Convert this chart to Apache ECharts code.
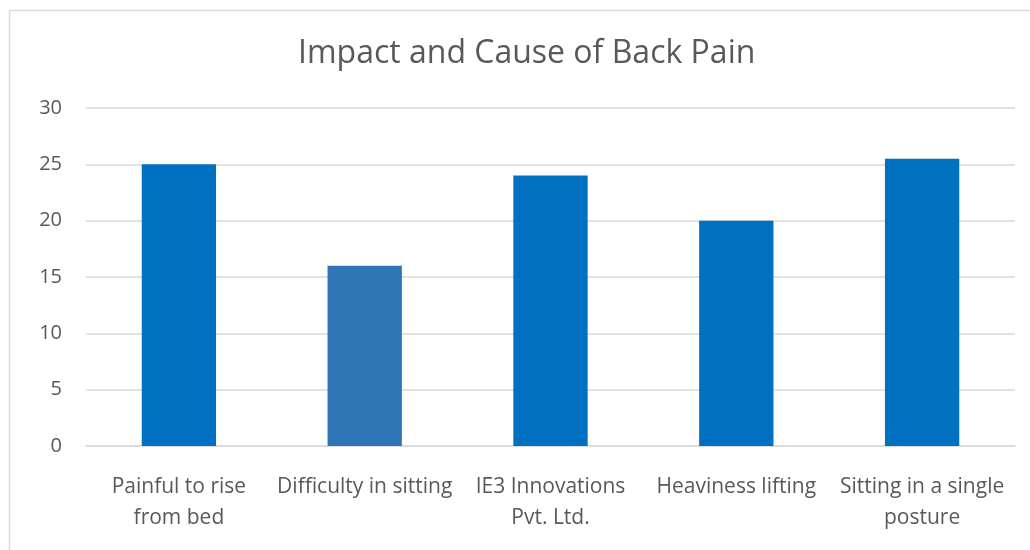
<!DOCTYPE html>
<html>
<head>
<meta charset="utf-8">
<script src="https://cdn.jsdelivr.net/npm/echarts@6/dist/echarts.min.js"></script>
<style>
html,body{margin:0;padding:0;background:#fff;}
#chart{width:1030px;height:550px;}
</style>
</head>
<body>
<div id="chart"></div>
<script>
var titleText = 'Impact and Cause of Back Pain';
var categories = ['Painful to rise\nfrom bed', 'Difficulty in sitting', 'IE3 Innovations\nPvt. Ltd.', 'Heaviness lifting', 'Sitting in a single\nposture'];
var values = [25, 16, 24, 20, 25.5];
var barColors = ['#0070C0', '#2E75B6', '#0070C0', '#0070C0', '#0070C0'];
var yTicks = [0, 5, 10, 15, 20, 25, 30];

var chart = echarts.init(document.getElementById('chart'), null, {renderer: 'canvas'});
var font = '"Open Sans", "Liberation Sans", sans-serif';
chart.setOption({
  animation: false,
  graphic: [{
    type: 'rect',
    shape: {x: 9.5, y: 10.5, width: 1100, height: 600},
    style: {fill: 'none', stroke: '#D9D9D9', lineWidth: 1.5},
    silent: true
  }],
  title: {
    text: titleText,
    left: 293,
    top: 33,
    textStyle: {fontFamily: font, fontSize: 32, fontWeight: 'normal', color: '#595959'}
  },
  grid: {left: 86, right: 15, top: 108, bottom: 104, containLabel: false},
  xAxis: {
    type: 'category',
    data: categories,
    axisLine: {show: true, lineStyle: {color: '#D9D9D9', width: 1.5}},
    axisTick: {show: false},
    axisLabel: {fontFamily: font, fontSize: 21, color: '#595959', margin: 26, lineHeight: 31, interval: 0}
  },
  yAxis: {
    type: 'value',
    min: yTicks[0],
    max: yTicks[yTicks.length - 1],
    interval: yTicks[1] - yTicks[0],
    axisLine: {show: false},
    axisTick: {show: false},
    splitLine: {lineStyle: {color: '#D9D9D9', width: 1.5}},
    axisLabel: {fontFamily: font, fontSize: 20, color: '#595959', margin: 24}
  },
  series: [{
    type: 'bar',
    data: values.map(function (v, i) { return {value: v, itemStyle: {color: barColors[i]}}; }),
    barWidth: '40%'
  }]
});
</script>
</body>
</html>
